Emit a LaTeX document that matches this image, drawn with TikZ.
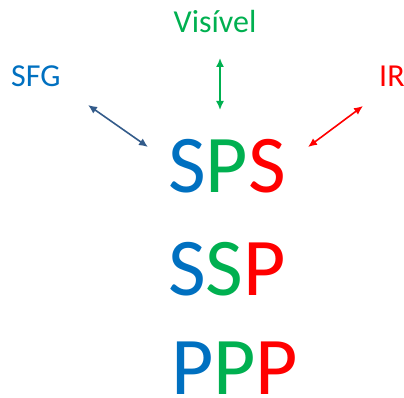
\documentclass[tikz,border=0pt]{standalone}
\usepackage{fontspec}
\setmainfont{Carlito}
\usetikzlibrary{positioning,arrows.meta}
\definecolor{sfgblue}{HTML}{0070C0}
\definecolor{visgreen}{HTML}{00B050}
\definecolor{irred}{HTML}{FF0000}
\definecolor{linkblue}{HTML}{335B8A}

\begin{document}
\begin{tikzpicture}[x=1pt,y=-1pt,
	label/.style={inner sep=0pt,anchor=base west,font=\fontsize{32}{32}\selectfont},
	big/.style={inner sep=0pt,anchor=base west,text depth=0pt,font=\fontsize{82}{82}\selectfont},
	link/.style={{Latex[length=9pt,width=8pt]}-{Latex[length=9pt,width=8pt]},line width=1.6pt}
	]
	\useasboundingbox (0,0) rectangle (404,398);
	% beam labels
	\node[label,text=sfgblue] (sfg) at (11,87) {SFG};
	\node[label,text=visgreen,anchor=base] (vis) at (215,33) {Visível};
	\node[label,text=irred] (ir) at (379,87) {IR};
	% the three polarisation words
	\node[big] (sps) at (168,193) {\textcolor{sfgblue}{S}\textcolor{visgreen}{P}\textcolor{irred}{S}};
	\node[big] (ssp) at (168,295) {\textcolor{sfgblue}{S}\textcolor{visgreen}{S}\textcolor{irred}{P}};
	\node[big] (ppp) at (171,394) {\textcolor{sfgblue}{P}\textcolor{visgreen}{P}\textcolor{irred}{P}};
	% arrow ends
	\coordinate (sfgend) at (88,105);
	\coordinate (spsleft) at (148,147);
	\coordinate (visend) at (220,58);
	\coordinate (spstop) at (220,110);
	\coordinate (irend) at (363,106);
	\coordinate (spsright) at (308,147);
	\draw[link,linkblue] (sfgend) -- (spsleft);
	\draw[link,visgreen] (visend) -- (spstop);
	\draw[link,irred] (irend) -- (spsright);
\end{tikzpicture}
\end{document}
